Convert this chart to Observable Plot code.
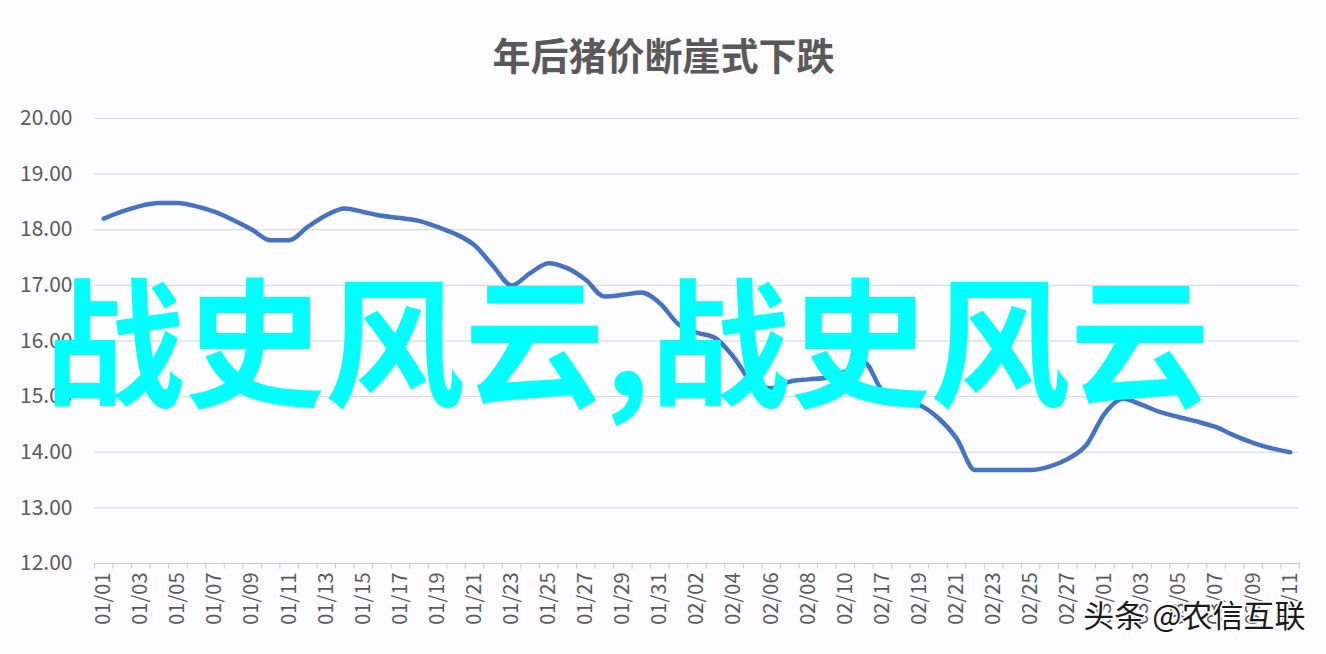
<!DOCTYPE html>
<html>
<head>
<meta charset="utf-8">
<script src="https://cdn.jsdelivr.net/npm/d3@7"></script>
<script src="https://cdn.jsdelivr.net/npm/@observablehq/plot@0.6"></script>
<style>
  html, body { margin: 0; padding: 0; background: #fdfcfe; }
  #chart svg { display: block; }
</style>
</head>
<body>
<div id="chart"></div>
<script>
const titleText = "年后猪价断崖式下跌";
const overlayText = "战史风云,战史风云";
const watermarkText = "头条 @农信互联";

const dates = [
  "01/01","01/02","01/03","01/04","01/05","01/06","01/07","01/08","01/09","01/10",
  "01/11","01/12","01/13","01/14","01/15","01/16","01/17","01/18","01/19","01/20",
  "01/21","01/22","01/23","01/24","01/25","01/26","01/27","01/28","01/29","01/30",
  "01/31","02/01","02/02","02/03","02/04","02/05","02/06","02/07","02/08","02/09",
  "02/10","02/16","02/17","02/18","02/19","02/20","02/21","02/22","02/23","02/24",
  "02/25","02/26","02/27","02/28","03/01","03/02","03/03","03/04","03/05","03/06",
  "03/07","03/08","03/09","03/10","03/11"
];

const prices = [
  18.20,18.33,18.43,18.48,18.48,18.42,18.32,18.17,18.00,17.81,
  17.81,18.05,18.26,18.38,18.32,18.25,18.21,18.16,18.05,17.92,
  17.72,17.35,17.00,17.22,17.40,17.31,17.10,16.80,16.83,16.87,
  16.68,16.30,16.15,16.05,15.70,15.25,15.15,15.27,15.31,15.34,
  15.45,15.62,15.10,14.93,14.85,14.62,14.25,13.68,13.68,13.68,
  13.68,13.74,13.88,14.13,14.70,14.96,14.85,14.72,14.63,14.55,
  14.45,14.30,14.17,14.07,14.00
];

const tickLabels = [
  "01/01","01/03","01/05","01/07","01/09","01/11","01/13","01/15","01/17","01/19",
  "01/21","01/23","01/25","01/27","01/29","01/31","02/02","02/04","02/06","02/08",
  "02/10","02/17","02/19","02/21","02/23","02/25","02/27","03/01","03/03","03/05",
  "03/07","03/09","03/11"
];

const yTicks = [12, 13, 14, 15, 16, 17, 18, 19, 20];

const data = dates.map((d, i) => ({date: d, price: prices[i]}));

const W = 1326, H = 654;
const mL = 94, mR = 27, mT = 118, mB = 91;
const step = (W - mL - mR) / dates.length;
const frameCenter = mL + (W - mL - mR) / 2;
const font = "'Noto Sans CJK SC', 'Noto Sans', sans-serif";

const chart = Plot.plot({
  width: W,
  height: H,
  marginLeft: mL,
  marginRight: mR,
  marginTop: mT,
  marginBottom: mB,
  style: {background: "#fdfcfe", fontFamily: font, color: "#595959"},
  x: {type: "point", domain: dates, padding: 0.5, axis: null},
  y: {domain: [12, 20], axis: null},
  marks: [
    Plot.gridY(yTicks, {stroke: "#d4d4d4", strokeOpacity: 1, strokeWidth: 1}),
    Plot.ruleY([12], {stroke: "#c8c8c8", strokeWidth: 1}),
    Plot.ruleX(dates, {x: d => d, y1: 12, y2: 11.9, dx: -step / 2, stroke: "#c8c8c8"}),
    Plot.ruleX([dates[dates.length - 1]], {x: d => d, y1: 12, y2: 11.9, dx: step / 2, stroke: "#c8c8c8"}),
    Plot.axisY(yTicks, {
      label: null, tickSize: 0, tickPadding: 22, fontSize: 21, fill: "#595959",
      tickFormat: d => d.toFixed(2), fontFamily: font
    }),
    Plot.text(tickLabels, {
      x: d => d, frameAnchor: "bottom", dy: 9, rotate: -90,
      textAnchor: "end", lineAnchor: "middle", fontSize: 20, fill: "#595959", fontFamily: font
    }),
    Plot.line(data, {
      x: "date", y: "price", stroke: "#4472C4", strokeWidth: 4.5,
      curve: "monotone-x", strokeLinejoin: "round", strokeLinecap: "round"
    }),
    Plot.text([titleText], {
      frameAnchor: "top", dx: W / 2 - frameCenter, dy: -61, lineAnchor: "middle", fontSize: 38,
      fontWeight: "bold", fill: "#595959", fontFamily: font
    }),
    Plot.text([overlayText], {
      frameAnchor: "left", textAnchor: "start", lineAnchor: "middle",
      dx: -50, dy: 10, fontSize: 140, fontWeight: "bold", fill: "#00FFFF", fontFamily: font
    }),
    Plot.text([watermarkText], {
      frameAnchor: "bottom-right", textAnchor: "end", lineAnchor: "middle",
      dx: 6, dy: 54, fontSize: 31, fill: "#1a1a1a", stroke: "#ffffff",
      strokeWidth: 3, paintOrder: "stroke", fontFamily: font
    })
  ]
});

document.getElementById("chart").appendChild(chart);
</script>
</body>
</html>
